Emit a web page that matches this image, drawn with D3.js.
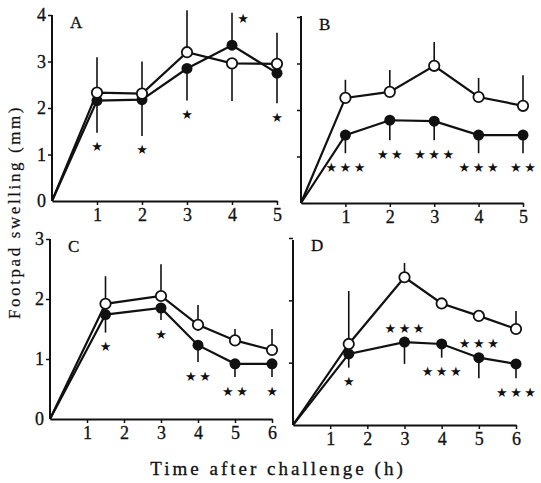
<!DOCTYPE html>
<html><head><meta charset="utf-8">
<script src="https://cdn.jsdelivr.net/npm/d3@7"></script>
<style>
body{margin:0;background:#fff;}
svg{display:block;}
</style></head>
<body>
<svg id="chart" width="541" height="483"></svg>
<script>
// ---------- data ----------
const hoursAB = [1, 2, 3, 4, 5];
const hoursCD = [1.5, 3, 4, 5, 6];
const xTicksAB = [1, 2, 3, 4, 5];
const xTicksCD = [1, 2, 3, 4, 5, 6];
const yTicksAB = [0, 1, 2, 3, 4];
const yTicksCD = [0, 1, 2, 3];

const openA = [2.33, 2.31, 3.2, 2.96, 2.95];
const openTipA = [3.09, 3.0, 4.1, 2.15, 3.62];
const filledA = [2.16, 2.18, 2.85, 3.35, 2.75];
const filledTipA = [1.47, 1.4, 2.16, 4.05, 2.1];
const starsA = ["*", "*", "*", "*", "*"];

const openB = [2.26, 2.39, 2.95, 2.28, 2.09];
const openTipB = [2.65, 2.86, 3.46, 2.69, 2.75];
const filledB = [1.46, 1.78, 1.76, 1.46, 1.46];
const filledTipB = [1.07, 1.35, 1.35, 1.07, 1.07];
const starsB = ["***", "**", "***", "***", "**"];

const openC = [1.92, 2.05, 1.57, 1.31, 1.15];
const openTipC = [2.38, 2.58, 1.9, 1.5, 1.5];
const filledC = [1.74, 1.85, 1.23, 0.92, 0.92];
const filledTipC = [1.44, 1.65, 0.95, 0.7, 0.7];
const starsC = ["*", "*", "**", "**", "*"];

const openD = [1.3, 2.37, 1.95, 1.75, 1.54];
const openTipD = [2.15, 2.6, 1.95, 1.83, 1.83];
const filledD = [1.14, 1.33, 1.3, 1.08, 0.98];
const filledTipD = [0.92, 0.98, 1.08, 0.75, 0.75];
const starsD = ["*", "***", "***", "***", "***"];

const yLabel = "Footpad swelling (mm)";
const xLabel = "Time after challenge (h)";

// ---------- layout ----------
const panels = [
  {id:"A", hours:hoursAB, xMax:5, yMax:4, xTicks:xTicksAB, yTicks:yTicksAB, showY:true,
   open:openA, openTip:openTipA, filled:filledA, filledTip:filledTipA, stars:starsA,
   side:["below","below","below","topright","below"],
   px:[52,277], py:[201,15], yTop:15},
  {id:"B", hours:hoursAB, xMax:5, yMax:4, xTicks:xTicksAB, yTicks:yTicksAB, showY:false,
   open:openB, openTip:openTipB, filled:filledB, filledTip:filledTipB, stars:starsB,
   side:["below","below","below","below","below"],
   px:[301,523], py:[203,17], yTop:16},
  {id:"C", hours:hoursCD, xMax:6, yMax:3, xTicks:xTicksCD, yTicks:yTicksCD, showY:true,
   open:openC, openTip:openTipC, filled:filledC, filledTip:filledTipC, stars:starsC,
   side:["below","below","below","below","below"],
   px:[50,272], py:[419,239], yTop:239},
  {id:"D", hours:hoursCD, xMax:6, yMax:3, xTicks:xTicksCD, yTicks:yTicksCD, showY:false,
   open:openD, openTip:openTipD, filled:filledD, filledTip:filledTipD, stars:starsD,
   side:["below","above","below","above","below"],
   px:[293,516], py:[425,238], yTop:240}
];

const svg = d3.select("#chart");
const SERIF = "'Liberation Serif','DejaVu Serif',serif";
const STAR_SP = 2.5;

panels.forEach(p => {
  const x = d3.scaleLinear().domain([0, p.xMax]).range(p.px);
  const y = d3.scaleLinear().domain([0, p.yMax]).range(p.py);
  const g = svg.append("g");

  // axes
  const xAxis = d3.axisBottom(x).tickValues(p.xTicks).tickSize(4).tickSizeOuter(0).tickPadding(3)
    .tickFormat(d3.format("d"));
  const gx = g.append("g").attr("transform", `translate(0,${p.py[0]})`).call(xAxis);
  const yAxis = d3.axisLeft(y).tickValues(p.yTicks).tickSize(4).tickSizeOuter(0).tickPadding(2)
    .tickFormat(p.showY ? d3.format("d") : () => "");
  const gy = g.append("g").attr("transform", `translate(${p.px[0]},0)`).call(yAxis);
  [gx, gy].forEach(a => {
    a.select(".domain").attr("stroke", "#111").attr("stroke-width", 2);
    a.selectAll(".tick line").attr("stroke", "#111").attr("stroke-width", 1.5);
    a.selectAll("text").attr("fill", "#111").style("font-family", SERIF).style("font-size", "18px")
      .attr("stroke", "#111").attr("stroke-width", 0.3);
  });
  gy.selectAll(".tick").filter(d => d === 0).select("line").remove();
  gy.select(".domain").attr("d", `M0,${p.py[0]}V${p.yTop}`);

  // panel letter
  g.append("text").attr("x", p.px[0] + 18).attr("y", p.py[1] + 13)
    .attr("fill", "#111").style("font-family", SERIF).style("font-size", "17px")
    .attr("stroke", "#111").attr("stroke-width", 0.3)
    .text(p.id);

  const pts = series => [{h:0, v:0}].concat(p.hours.map((h, i) => ({h, v:series[i]})));
  const line = d3.line().x(d => x(d.h)).y(d => y(d.v));

  // error bars
  p.hours.forEach((h, i) => {
    g.append("line").attr("x1", x(h)).attr("x2", x(h))
      .attr("y1", y(p.open[i])).attr("y2", y(p.openTip[i]))
      .attr("stroke", "#111").attr("stroke-width", 1.6);
    g.append("line").attr("x1", x(h)).attr("x2", x(h))
      .attr("y1", y(p.filled[i])).attr("y2", y(p.filledTip[i]))
      .attr("stroke", "#111").attr("stroke-width", 1.6);
  });

  // lines
  g.append("path").datum(pts(p.filled)).attr("d", line)
    .attr("fill", "none").attr("stroke", "#111").attr("stroke-width", 2.2);
  g.append("path").datum(pts(p.open)).attr("d", line)
    .attr("fill", "none").attr("stroke", "#111").attr("stroke-width", 2.2);

  // markers
  g.selectAll(".f").data(p.hours).join("circle")
    .attr("cx", d => x(d)).attr("cy", (d, i) => y(p.filled[i])).attr("r", 5.5)
    .attr("fill", "#111");
  g.selectAll(".o").data(p.hours).join("circle")
    .attr("cx", d => x(d)).attr("cy", (d, i) => y(p.open[i])).attr("r", 5.2)
    .attr("fill", "#fff").attr("stroke", "#111").attr("stroke-width", 1.8);

  // significance stars
  p.hours.forEach((h, i) => {
    const s = p.side[i];
    let sx = x(h), sy;
    if (s === "below") sy = y(Math.min(p.filledTip[i], p.filled[i])) + 14;
    else if (s === "above") sy = y(p.filled[i]) - 14;
    else { sx = x(h) + 11; sy = y(p.filledTip[i]) + 6; }
    g.append("text").attr("x", sx + STAR_SP / 2).attr("y", sy)
      .attr("text-anchor", "middle").attr("dominant-baseline", "central")
      .attr("fill", "#111").style("font-family", "'DejaVu Sans',sans-serif")
      .style("font-size", "13px").style("letter-spacing", STAR_SP + "px")
      .text(p.stars[i].replace(/\*/g, "★"));
  });
});

// axis titles
svg.append("text").attr("transform", "translate(20,212) rotate(-90)")
  .attr("text-anchor", "middle").attr("fill", "#111")
  .style("font-family", SERIF).style("font-size", "17px").style("letter-spacing", "2.6px")
  .attr("stroke", "#111").attr("stroke-width", 0.2)
  .text(yLabel);
svg.append("text").attr("x", 278).attr("y", 475)
  .attr("text-anchor", "middle").attr("fill", "#111")
  .style("font-family", SERIF).style("font-size", "19px").style("letter-spacing", "3px")
  .attr("stroke", "#111").attr("stroke-width", 0.3)
  .text(xLabel);
</script>
</body></html>
